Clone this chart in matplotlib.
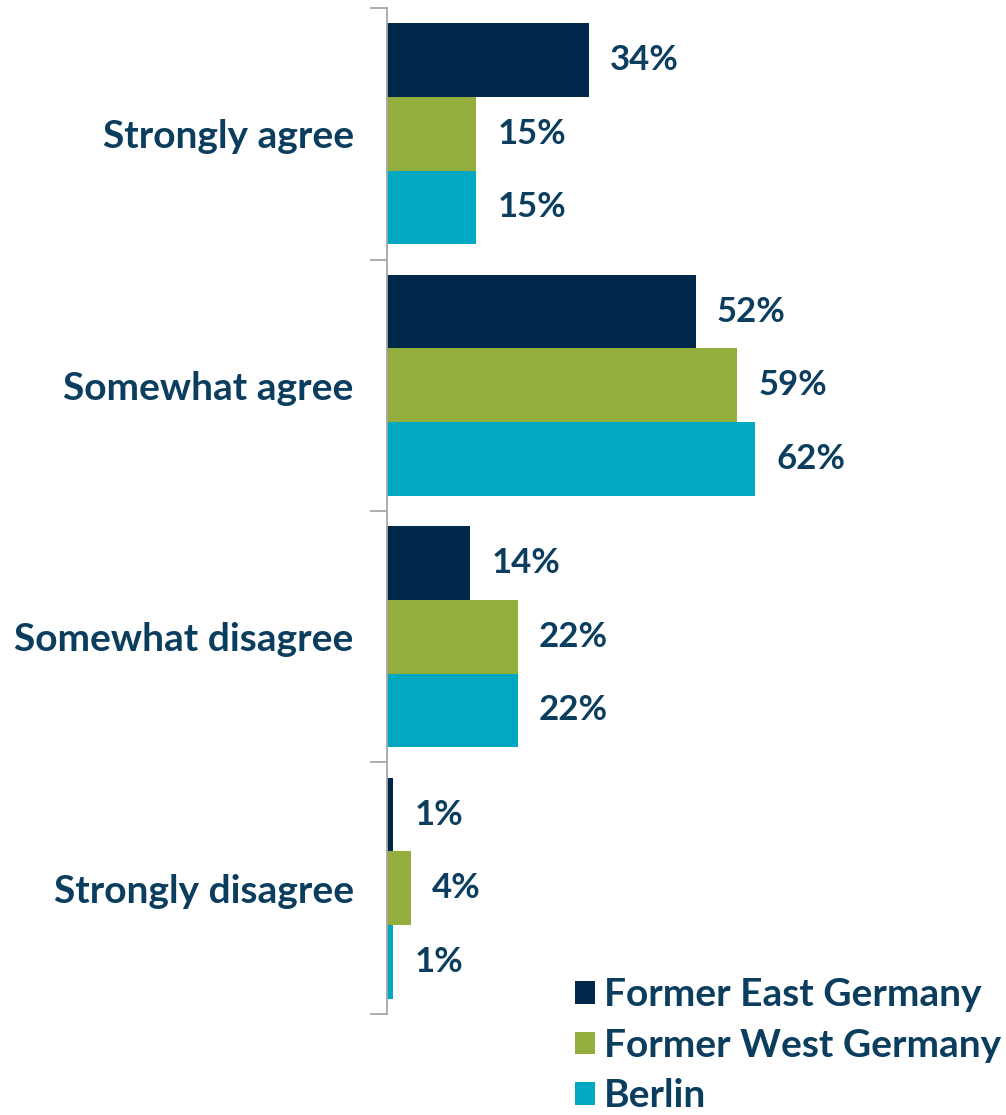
import matplotlib
matplotlib.use("Agg")
import matplotlib.pyplot as plt
import numpy as np

categories = ["Strongly agree", "Somewhat agree", "Somewhat disagree", "Strongly disagree"]
series_names = ["Former East Germany", "Former West Germany", "Berlin"]
east = [34, 52, 14, 1]
west = [15, 59, 22, 4]
berlin = [15, 62, 22, 1]

colors = ["#00284a", "#94ae3e", "#00a8c2"]
text_col = "#0b3d5e"

plt.rcParams['font.family'] = ['Lato', 'DejaVu Sans']
plt.rcParams['font.weight'] = 'bold'

fig = plt.figure(figsize=(10.06, 11.15), dpi=100)
ax = fig.add_axes([0.3847, 0.0906, 0.59, 0.9022])

y = np.arange(len(categories))
h = 0.293
for i, (vals, name) in enumerate(zip([east, west, berlin], series_names)):
    pos = y + (i - 1) * h
    ax.barh(pos, vals, height=h, color=colors[i], label=name)
    for p, v in zip(pos, vals):
        ax.text(v + 3.6, p, f"{v}%", va="center", ha="left",
                fontsize=25, fontweight="bold", color=text_col)

ax.set_xlim(0, 100)
ax.set_ylim(3.5, -0.5)
ax.set_xticks([])
ax.set_yticks(y)
ax.set_yticklabels(categories, fontsize=28, fontweight="bold", color=text_col)
ax.tick_params(axis="y", which="major", length=0, pad=24)
ax.set_yticks(np.arange(-0.5, 4, 1), minor=True)
ax.tick_params(axis="y", which="minor", length=12, color="#a6a6a6", width=1.3)
for s in ["top", "right", "bottom"]:
    ax.spines[s].set_visible(False)
ax.spines["left"].set_color("#a6a6a6")
ax.spines["left"].set_linewidth(1.3)

leg = fig.legend(loc="lower right", bbox_to_anchor=(1.022, -0.023), frameon=False,
                 fontsize=28, handlelength=0.52, handleheight=0.52,
                 handletextpad=0.23, labelspacing=0.40, labelcolor=text_col,
                 borderpad=0.2)
for t in leg.get_texts():
    t.set_fontweight("bold")

fig.savefig("out.png", dpi=100)
